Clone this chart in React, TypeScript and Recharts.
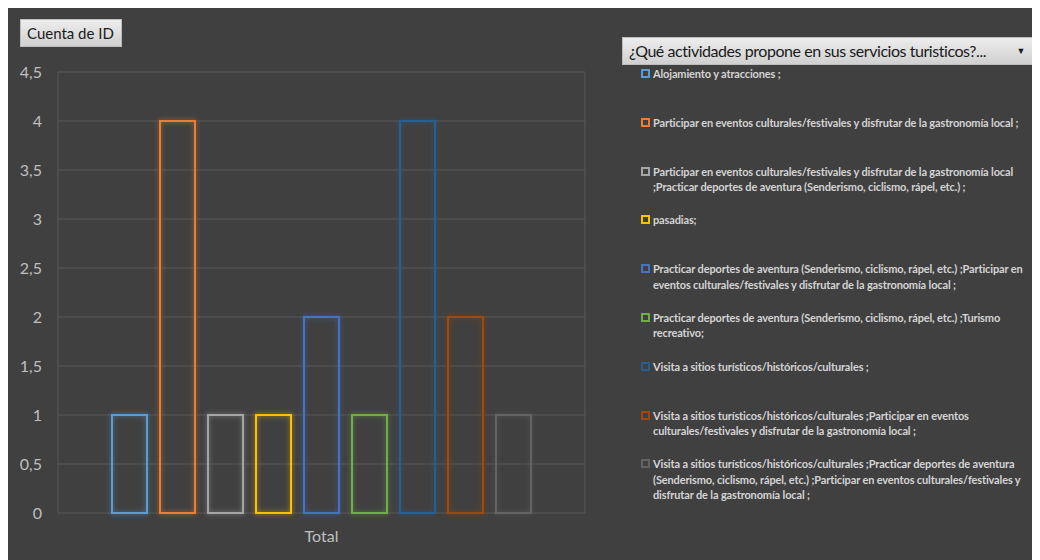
import { BarChart, Bar, XAxis, YAxis, CartesianGrid } from "recharts"

const categories = ["Total"]

const seriesLabels = [
  "Alojamiento y atracciones ;",
  "Participar en eventos culturales/festivales y disfrutar de la gastronomía local ;",
  "Participar en eventos culturales/festivales y disfrutar de la gastronomía local\n;Practicar deportes de aventura (Senderismo, ciclismo, rápel, etc.) ;",
  "pasadias;",
  "Practicar deportes de aventura (Senderismo, ciclismo, rápel, etc.) ;Participar en\neventos culturales/festivales y disfrutar de la gastronomía local ;",
  "Practicar deportes de aventura (Senderismo, ciclismo, rápel, etc.) ;Turismo\nrecreativo;",
  "Visita a sitios turísticos/históricos/culturales ;",
  "Visita a sitios turísticos/históricos/culturales ;Participar en eventos\nculturales/festivales y disfrutar de la gastronomía local ;",
  "Visita a sitios turísticos/históricos/culturales ;Practicar deportes de aventura\n(Senderismo, ciclismo, rápel, etc.) ;Participar en eventos culturales/festivales y\ndisfrutar de la gastronomía local ;",
]

const seriesValues = [1, 4, 1, 1, 2, 1, 4, 2, 1]

const yTicks = [0, 0.5, 1, 1.5, 2, 2.5, 3, 3.5, 4, 4.5]

const palette = [
  "#5B9BD5",
  "#ED7D31",
  "#A5A5A5",
  "#FFC000",
  "#4472C4",
  "#70AD47",
  "#255E91",
  "#9E480E",
  "#636363",
]

const font = "Lato, 'Noto Sans', sans-serif"

const data = categories.map((name) => {
  const row: Record<string, string | number> = { name }
  seriesValues.forEach((v, i) => {
    row[`s${i}`] = v
  })
  return row
})

const buttonStyle = {
  position: "absolute" as const,
  height: 28,
  boxSizing: "border-box" as const,
  background: "linear-gradient(#ededed, #d0d0d0)",
  border: "1px solid #bdbdbd",
  color: "#1a1a1a",
  fontSize: 15,
  lineHeight: "26px",
  whiteSpace: "nowrap" as const,
  zIndex: 2,
}

function LegendBox() {
  return (
    <div style={{ position: "absolute", left: 614, top: 31, width: 413, fontFamily: font }}>
      <div
        style={{
          ...buttonStyle,
          position: "relative",
          width: 413,
          paddingLeft: 6,
          fontSize: 16,
          letterSpacing: -0.45,
        }}
      >
        ¿Qué actividades propone en sus servicios turisticos?...
        <span style={{ position: "absolute", right: 9, top: 0, fontSize: 9 }}>▼</span>
      </div>
      {seriesLabels.map((label, i) => (
        <div
          key={i}
          style={{
            height: 48.8,
            display: "flex",
            alignItems: "flex-start",
            paddingLeft: 19,
            marginTop: i === 0 ? 1 : 0,
          }}
        >
          <span
            style={{
              width: 9,
              height: 9,
              boxSizing: "border-box",
              border: `2px solid ${palette[i]}`,
              marginTop: 3,
              marginRight: 3,
              flexShrink: 0,
            }}
          />
          <span
            style={{
              color: "#d4d4d4",
              fontSize: 11,
              lineHeight: "15.5px",
              whiteSpace: "pre",
              fontWeight: 700,
              letterSpacing: -0.14,
            }}
          >
            {label}
          </span>
        </div>
      ))}
    </div>
  )
}

export default function App() {
  return (
    <div
      style={{
        position: "relative",
        width: 1032,
        height: 554,
        marginTop: -2,
        background: "#404040",
        fontFamily: font,
      }}
    >
      <div style={{ ...buttonStyle, left: 12, top: 13, width: 102, paddingLeft: 6 }}>
        Cuenta de ID
      </div>
      <LegendBox />
      <BarChart
        width={1032}
        height={554}
        data={data}
        margin={{ top: 66, right: 455, bottom: 0, left: 0 }}
        barGap={13}
        barSize={35}
      >
        <defs>
          <filter id="glow" x="-30%" y="-10%" width="160%" height="120%">
            <feGaussianBlur in="SourceGraphic" stdDeviation="2.5" result="blur" />
            <feComponentTransfer in="blur" result="soft">
              <feFuncA type="linear" slope="0.7" />
            </feComponentTransfer>
            <feMerge>
              <feMergeNode in="soft" />
              <feMergeNode in="SourceGraphic" />
            </feMerge>
          </filter>
        </defs>
        <CartesianGrid
          stroke="#595959"
          strokeWidth={1}
          verticalCoordinatesGenerator={({ offset }: any) => [
            offset.left,
            offset.left + offset.width,
          ]}
        />
        <XAxis
          dataKey="name"
          height={47}
          tickSize={0}
          tickMargin={18}
          axisLine={false}
          tick={{ fill: "#bfbfbf", fontSize: 16, fontFamily: font }}
        />
        <YAxis
          width={50}
          domain={[0, 4.5]}
          ticks={yTicks}
          interval={0}
          tickSize={0}
          tickMargin={16}
          axisLine={false}
          tickFormatter={(v: number) => String(v).replace(".", ",")}
          tick={{ fill: "#bfbfbf", fontSize: 16, fontFamily: font }}
        />
        {seriesValues.map((_, i) => (
          <Bar
            key={i}
            dataKey={`s${i}`}
            name={seriesLabels[i]}
            fill="none"
            stroke={palette[i]}
            strokeWidth={2}
            filter="url(#glow)"
            isAnimationActive={false}
          />
        ))}
      </BarChart>
    </div>
  )
}
